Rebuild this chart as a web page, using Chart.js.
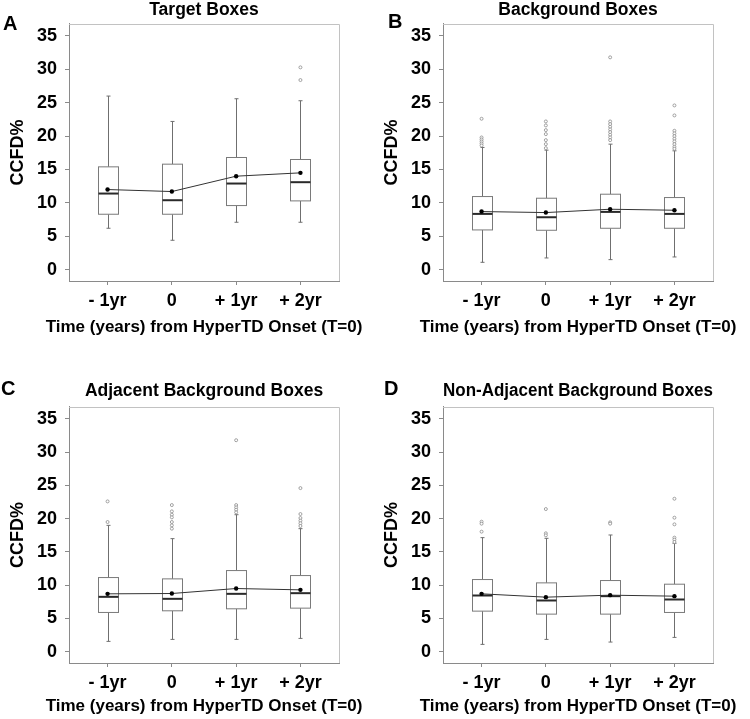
<!DOCTYPE html>
<html>
<head>
<meta charset="utf-8">
<script src="https://cdn.jsdelivr.net/npm/chart.js@4.4.1/dist/chart.umd.min.js"></script>
<style>
  body { margin: 0; background: #fff; }
  #wrap { position: relative; width: 750px; height: 719px; overflow: hidden; font-family: 'Liberation Sans', Arial, sans-serif; }
  canvas { position: absolute; }
  .letter { position: absolute; font-weight: bold; font-size: 20px; line-height: 20px; color: #000; }
</style>
</head>
<body>
<div id="wrap">
  <canvas id="chartA" width="375" height="360" style="left:0;top:0"></canvas>
  <canvas id="chartB" width="375" height="360" style="left:374px;top:0"></canvas>
  <canvas id="chartC" width="375" height="359" style="left:0;top:360px"></canvas>
  <canvas id="chartD" width="375" height="359" style="left:374px;top:360px"></canvas>
  <div class="letter" style="left:3px;top:13px">A</div>
  <div class="letter" style="left:388px;top:11px">B</div>
  <div class="letter" style="left:1px;top:378px">C</div>
  <div class="letter" style="left:384px;top:378px">D</div>
</div>
<script>
var timeLabels = ['- 1yr', '0', '+ 1yr', '+ 2yr'];
var yTicks = [0, 5, 10, 15, 20, 25, 30, 35];
var xAxisTitle = 'Time (years) from HyperTD Onset (T=0)';

// A - target boxes
var targetLow = [6.2, 4.4, 7.1, 7.1];
var targetQ1 = [8.3, 8.3, 9.6, 10.3];
var targetMedian = [11.4, 10.4, 12.9, 13.1];
var targetQ3 = [15.4, 15.8, 16.8, 16.5];
var targetHigh = [26.0, 22.2, 25.6, 25.3];
var targetMean = [12.0, 11.7, 14.0, 14.5];
var targetOutliers = [[], [], [], [30.3, 28.4]];

// B - background boxes
var backgroundLow = [1.1, 1.75, 1.5, 1.9];
var backgroundQ1 = [5.95, 5.9, 6.2, 6.2];
var backgroundMedian = [8.35, 7.85, 8.65, 8.35];
var backgroundQ3 = [10.95, 10.7, 11.3, 10.8];
var backgroundHigh = [18.3, 17.9, 18.8, 17.8];
var backgroundMean = [8.7, 8.55, 9.05, 8.9];
var backgroundOutliers = [
  [22.6, 19.8, 19.5, 19.2, 18.9, 18.6],
  [22.2, 21.6, 20.9, 20.3, 19.4, 18.8, 18.2],
  [31.8, 22.2, 21.8, 21.4, 21.0, 20.6, 20.2, 19.8, 19.4],
  [24.6, 23.1, 20.8, 20.4, 20.0, 19.6, 19.2, 18.8, 18.4, 18.1]
];

// C - adjacent background boxes
var adjacentLow = [1.55, 1.85, 1.85, 2.0];
var adjacentQ1 = [5.9, 6.15, 6.45, 6.55];
var adjacentMedian = [8.25, 7.95, 8.7, 8.8];
var adjacentQ3 = [11.15, 10.95, 12.2, 11.45];
var adjacentHigh = [19.0, 17.0, 20.6, 18.5];
var adjacentMean = [8.7, 8.75, 9.5, 9.3];
var adjacentOutliers = [
  [22.6, 19.5],
  [22.05, 21.1, 20.6, 20.2, 19.5, 19.0, 18.5],
  [31.8, 22.05, 21.7, 21.35, 20.95],
  [24.6, 20.7, 20.1, 19.7, 19.3, 18.9]
];

// D - non-adjacent background boxes
var nonAdjacentLow = [1.1, 1.85, 1.45, 2.15];
var nonAdjacentQ1 = [6.1, 5.65, 5.65, 5.9];
var nonAdjacentMedian = [8.45, 7.7, 8.35, 7.85];
var nonAdjacentQ3 = [10.85, 10.35, 10.7, 10.15];
var nonAdjacentHigh = [17.15, 17.05, 17.55, 16.3];
var nonAdjacentMean = [8.7, 8.2, 8.5, 8.35];
var nonAdjacentOutliers = [
  [19.55, 19.25, 18.05],
  [21.45, 17.8, 17.5],
  [19.45, 19.25],
  [23.0, 20.15, 19.15, 17.15, 16.85, 16.5]
];

Chart.defaults.font.family = "'Liberation Sans', Arial, sans-serif";
Chart.defaults.color = '#000';

// boxes, whiskers and medians drawn with the chart's scales
var boxPlugin = {
  id: 'boxes',
  beforeDatasetsDraw: function (chart, args, opts) {
    var ctx = chart.ctx, x = chart.scales.x, y = chart.scales.y, s = opts.stats;
    ctx.save();
    for (var i = 0; i < s.median.length; i++) {
      var cx = Math.round(x.getPixelForValue(i)) + 0.5;
      var half = 10;
      var yLow = y.getPixelForValue(s.low[i]);
      var yQ1 = y.getPixelForValue(s.q1[i]);
      var yMed = y.getPixelForValue(s.median[i]);
      var yQ3 = y.getPixelForValue(s.q3[i]);
      var yHigh = y.getPixelForValue(s.high[i]);
      ctx.strokeStyle = '#6f6f6f';
      ctx.lineWidth = 1;
      ctx.beginPath();
      ctx.moveTo(cx, yHigh); ctx.lineTo(cx, yQ3);
      ctx.moveTo(cx, yQ1); ctx.lineTo(cx, yLow);
      ctx.moveTo(cx - 2, yHigh); ctx.lineTo(cx + 2, yHigh);
      ctx.moveTo(cx - 2, yLow); ctx.lineTo(cx + 2, yLow);
      ctx.stroke();
      ctx.fillStyle = '#fff';
      ctx.fillRect(cx - half, yQ3, half * 2, yQ1 - yQ3);
      ctx.strokeStyle = '#7a7a7a';
      ctx.strokeRect(cx - half, yQ3, half * 2, yQ1 - yQ3);
      ctx.strokeStyle = '#2a2a2a';
      ctx.lineWidth = 2;
      ctx.beginPath();
      ctx.moveTo(cx - half, yMed); ctx.lineTo(cx + half, yMed);
      ctx.stroke();
    }
    ctx.restore();
  },
  afterDraw: function (chart, args, opts) {
    var ctx = chart.ctx, a = chart.chartArea;
    ctx.save();
    // top and right edges of the frame
    ctx.strokeStyle = '#c2c2c2';
    ctx.lineWidth = 1;
    ctx.beginPath();
    ctx.moveTo(a.left, Math.round(a.top) + 0.5);
    ctx.lineTo(Math.round(a.right) + 0.5, Math.round(a.top) + 0.5);
    ctx.lineTo(Math.round(a.right) + 0.5, a.bottom);
    ctx.stroke();
    // x axis title, wider than the plot so drawn without a max width
    ctx.fillStyle = '#000';
    ctx.font = "bold 17px 'Liberation Sans', Arial, sans-serif";
    ctx.textAlign = 'center';
    ctx.textBaseline = 'middle';
    ctx.fillText(xAxisTitle, (a.left + a.right) / 2, opts.xTitleY);
    ctx.restore();
  }
};

function makePanel(id, title, stats, topRow) {
  var meanPts = stats.mean.map(function (v, i) { return { x: i, y: v }; });
  var outPts = [];
  stats.outliers.forEach(function (list, i) {
    list.forEach(function (v) { outPts.push({ x: i, y: v }); });
  });
  var xHeight = topRow ? 79 : 56;

  return new Chart(document.getElementById(id).getContext('2d'), {
    type: 'line',
    data: {
      datasets: [{
        label: 'Outliers',
        data: outPts,
        showLine: false,
        pointRadius: 1.5,
        pointBorderWidth: 0.8,
        pointBorderColor: '#8c8c8c',
        pointBackgroundColor: '#fff'
      }, {
        label: 'Mean',
        data: meanPts,
        borderColor: '#333',
        borderWidth: 1,
        pointRadius: 2.2,
        pointBorderWidth: 0,
        pointBackgroundColor: '#000',
        tension: 0
      }]
    },
    options: {
      responsive: false,
      animation: false,
      layout: { padding: { left: 0, right: 36, top: 0, bottom: 0 } },
      plugins: {
        legend: { display: false },
        tooltip: { enabled: false },
        title: {
          display: true,
          text: title,
          fullSize: false,
          color: '#000',
          font: { size: 17.5, weight: 'bold', lineHeight: 0.85 },
          padding: topRow ? { top: 2.5, bottom: 6.6 } : { top: 23.6, bottom: 8.5 }
        },
        boxes: { stats: stats, xTitleY: topRow ? 327 : 346 }
      },
      scales: {
        x: {
          type: 'linear',
          min: -0.6,
          max: 3.6,
          afterBuildTicks: function (s) { s.ticks = timeLabels.map(function (l, i) { return { value: i }; }); },
          afterFit: function (s) { s.height = xHeight; },
          ticks: {
            callback: function (v) { return timeLabels[v]; },
            font: { size: 18, weight: 'bold' },
            padding: 5,
            maxRotation: 0,
            autoSkip: false
          },
          grid: { drawOnChartArea: false, tickLength: 4, color: '#8a8a8a' },
          border: { color: '#8a8a8a' },
          title: { display: false }
        },
        y: {
          min: -1.7,
          max: 36.8,
          afterBuildTicks: function (s) { s.ticks = yTicks.map(function (v) { return { value: v }; }); },
          afterFit: function (s) { s.width = 69; },
          ticks: { font: { size: 18, weight: 'bold' }, padding: 8 },
          grid: { drawOnChartArea: false, tickLength: 4, color: '#8a8a8a' },
          border: { color: '#8a8a8a' },
          title: {
            display: true,
            text: 'CCFD%',
            font: { size: 18, weight: 'bold' },
            padding: { top: 7, bottom: 0 }
          }
        }
      }
    },
    plugins: [boxPlugin]
  });
}

makePanel('chartA', 'Target Boxes', {
  low: targetLow, q1: targetQ1, median: targetMedian, q3: targetQ3,
  high: targetHigh, mean: targetMean, outliers: targetOutliers
}, true);
makePanel('chartB', 'Background Boxes', {
  low: backgroundLow, q1: backgroundQ1, median: backgroundMedian, q3: backgroundQ3,
  high: backgroundHigh, mean: backgroundMean, outliers: backgroundOutliers
}, true);
makePanel('chartC', 'Adjacent Background Boxes', {
  low: adjacentLow, q1: adjacentQ1, median: adjacentMedian, q3: adjacentQ3,
  high: adjacentHigh, mean: adjacentMean, outliers: adjacentOutliers
}, false);
makePanel('chartD', 'Non-Adjacent Background Boxes', {
  low: nonAdjacentLow, q1: nonAdjacentQ1, median: nonAdjacentMedian, q3: nonAdjacentQ3,
  high: nonAdjacentHigh, mean: nonAdjacentMean, outliers: nonAdjacentOutliers
}, false);
</script>
</body>
</html>
